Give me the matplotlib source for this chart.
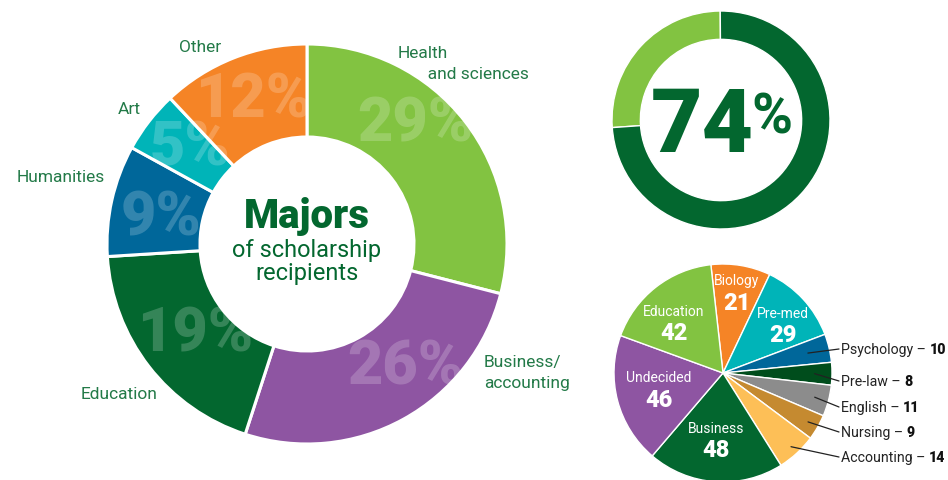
import matplotlib
matplotlib.use("Agg")
import matplotlib.pyplot as plt
import numpy as np

# ---------------- data ----------------
major_labels = ["Health\n       and sciences", "Business/\naccounting", "Education", "Humanities", "Art", "Other"]
major_pcts = [29, 26, 19, 9, 5, 12]
major_colors = ["#82c341", "#8e55a2", "#03672f", "#00679a", "#00b4b8", "#f58426"]

share_values = [26, 74]
share_label = "74"

pie_labels = ["Biology", "Pre-med", "Psychology", "Pre-law", "English", "Nursing",
              "Accounting", "Business", "Undecided", "Education"]
pie_values = [21, 29, 10, 8, 11, 9, 14, 48, 46, 42]
pie_colors = ["#f58426", "#00b4b8", "#00679a", "#004d1c", "#8c8c8c", "#c58a30",
              "#fdbf57", "#03672f", "#8e55a2", "#82c341"]
inside_labels = {"Biology", "Pre-med", "Business", "Undecided", "Education"}

# ---------------- layout ----------------
W, H = 948, 481
fig = plt.figure(figsize=(W / 100, H / 100), dpi=100)
ax = fig.add_axes([0, 0, 1, 1])
plt.rcParams['font.family'] = ['Roboto', 'DejaVu Sans']
FONT = 'Roboto'
LABEL_GREEN = "#237a48"
DARK_GREEN = "#03672f"


def P(x, y):
    """pixel (from top-left) -> data coords"""
    return (x, H - y)


# ---- main donut ----
c1 = P(307, 245)
R1 = 200
wedges1, _ = ax.pie(major_pcts, colors=major_colors, startangle=90, counterclock=False,
                    center=c1, radius=R1,
                    wedgeprops=dict(width=R1 * 0.465, edgecolor="white", linewidth=2.2))

pct_pos = [(415, 125), (405, 368), (195, 334), (161, 219), (190, 149), (253, 101)]
for w, pct, pos in zip(wedges1, major_pcts, pct_pos):
    t = ax.text(*P(*pos), f"{pct}%", ha="center", va="center", fontsize=44,
                fontweight="black", color="white", alpha=0.2, family=FONT)
    t.set_clip_path(w)

lab_pos = [(398, 64, "left"), (484, 373, "left"), (158, 395, "right"),
           (105, 177, "right"), (141, 110, "right"), (221, 48, "right")]
for lab, (x, y, ha) in zip(major_labels, lab_pos):
    ax.text(*P(x, y), lab, ha=ha, va="center", fontsize=12.5, color=LABEL_GREEN,
            family=FONT, linespacing=1.45, multialignment="left")

ax.text(*P(307, 216), "Majors", ha="center", va="center", fontsize=29,
        fontweight="black", color=DARK_GREEN, family=FONT)
ax.text(*P(307, 262), "of scholarship\nrecipients", ha="center", va="center",
        fontsize=17, color=DARK_GREEN, family=FONT, linespacing=0.95)

# ---- top-right donut ----
c2 = P(721, 121)
R2 = 109
ax.pie(share_values, colors=["#82c341", DARK_GREEN], startangle=184, counterclock=False,
       center=c2, radius=R2,
       wedgeprops=dict(width=R2 * 0.26, edgecolor="white", linewidth=1.0))
ax.text(*P(754, 128), share_label, ha="right", va="center", fontsize=64,
        fontweight="black", color=DARK_GREEN, family=FONT)
ax.text(*P(751, 118), "%", ha="left", va="center", fontsize=40,
        fontweight="bold", color=DARK_GREEN, family=FONT)

# ---- bottom-right pie ----
c3 = P(723, 374)
R3 = 109
start3 = 96.4
wedges3, _ = ax.pie(pie_values, colors=pie_colors, startangle=start3, counterclock=False,
                    center=c3, radius=R3,
                    wedgeprops=dict(edgecolor="white", linewidth=1.0))

ax.set_xlim(0, W)
ax.set_ylim(0, H)
ax.set_aspect("equal")
ax.axis("off")

inner_pos = {"Biology": (737, 281, 303), "Pre-med": (783, 314, 336),
             "Education": (674, 312, 334), "Undecided": (659, 378, 401),
             "Business": (716, 429, 451)}
outer_y = {"Psychology": 350, "Pre-law": 382, "English": 408, "Nursing": 433, "Accounting": 458}
outer_r = {"Psychology": 0.80, "Pre-law": 0.84, "English": 0.87, "Nursing": 0.9, "Accounting": 0.92}

renderer = fig.canvas.get_renderer()
total = sum(pie_values)
cum = 0
for lab, val in zip(pie_labels, pie_values):
    mid = np.deg2rad(start3 - (cum + val / 2) / total * 360)
    cum += val
    if lab in inside_labels:
        x, y1, y2 = inner_pos[lab]
        ax.text(*P(x, y1), lab, ha="center", va="center", fontsize=10,
                color="white", family=FONT)
        ax.text(*P(x, y2), str(val), ha="center", va="center", fontsize=17,
                fontweight="black", color="white", family=FONT)
    else:
        r = outer_r[lab] * R3
        xy = (c3[0] + r * np.cos(mid), c3[1] + r * np.sin(mid))
        ty = outer_y[lab]
        ax.annotate("", xy=xy, xytext=P(839, ty),
                    arrowprops=dict(arrowstyle="-", color="#222222", lw=0.9,
                                    shrinkA=0, shrinkB=0))
        t = ax.text(*P(841, ty), f"{lab} – ", ha="left", va="center", fontsize=10.2,
                    color="#222222", family=FONT)
        bb = t.get_window_extent(renderer)
        x_end = ax.transData.inverted().transform((bb.x1, bb.y0))[0]
        ax.text(x_end, H - ty, str(val), ha="left", va="center", fontsize=10.2,
                fontweight="black", color="#111111", family=FONT)

fig.savefig("out.png", dpi=100, facecolor="white")
